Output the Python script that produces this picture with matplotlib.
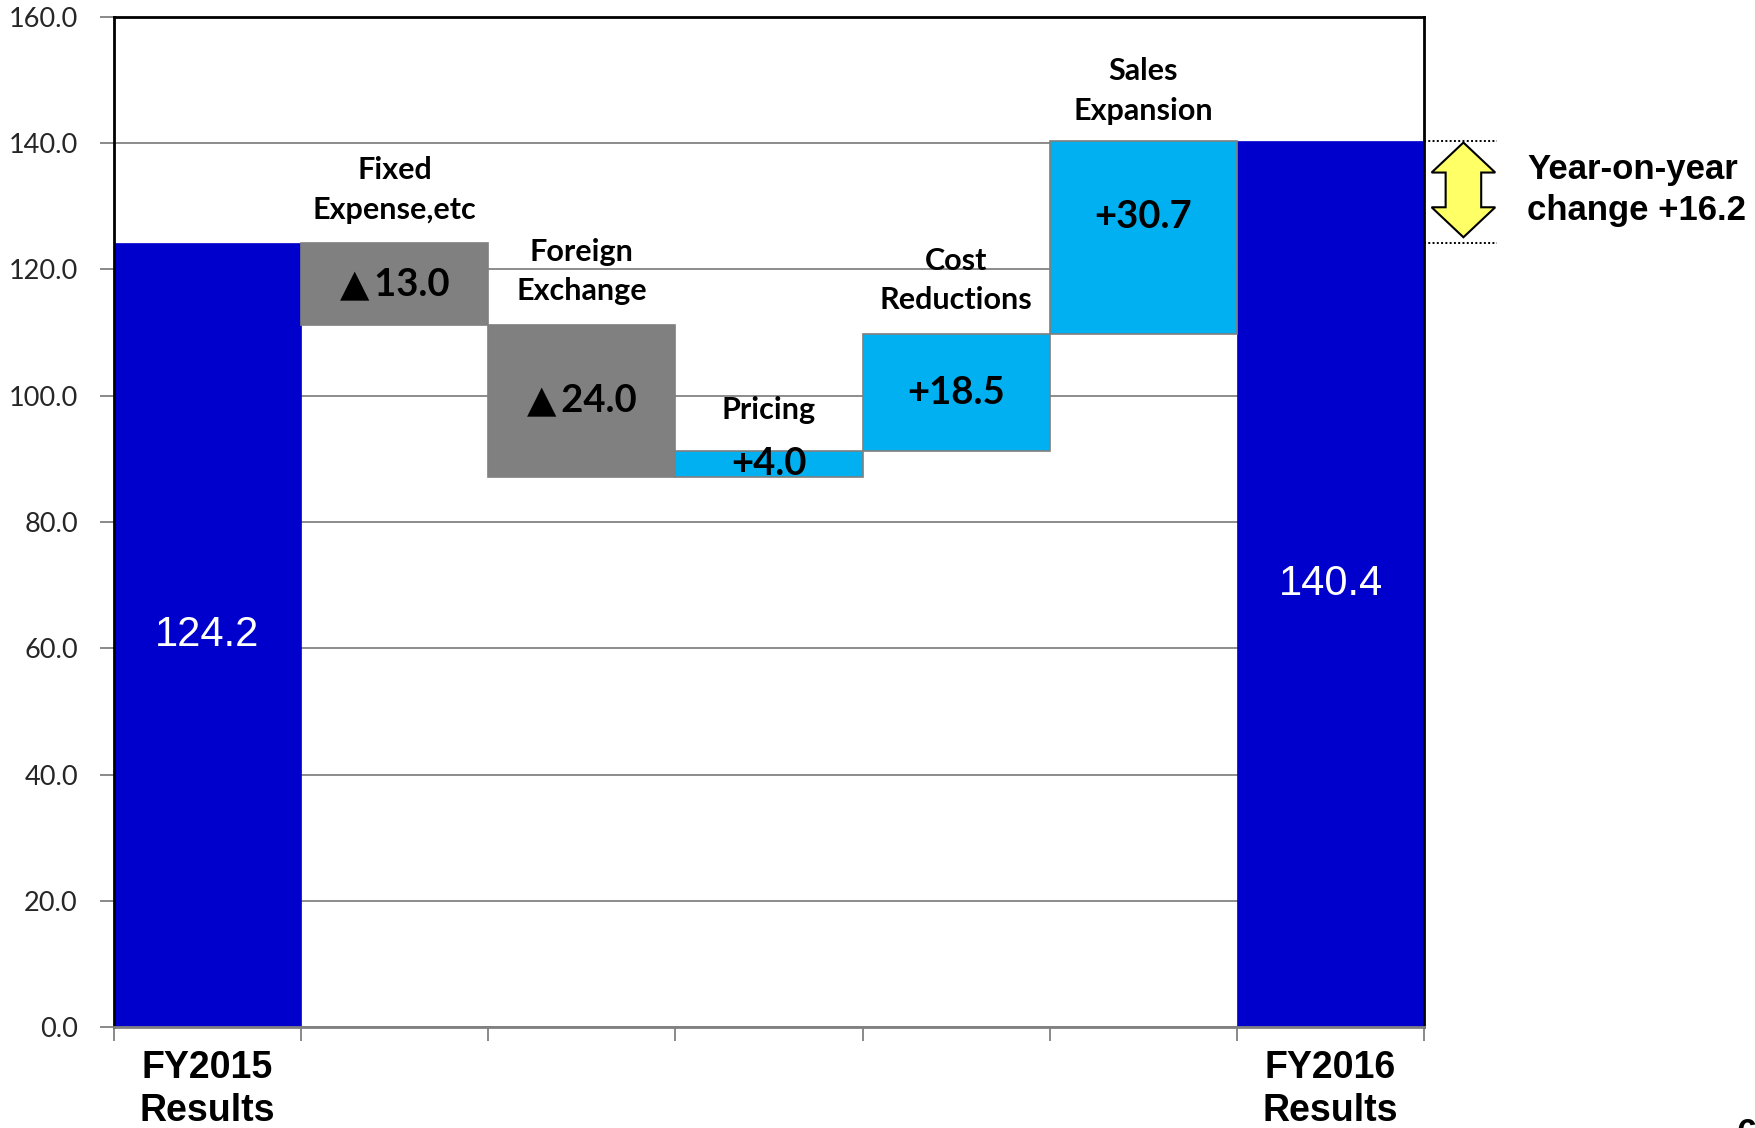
import matplotlib
matplotlib.use("Agg")
import matplotlib.pyplot as plt
from matplotlib.patches import Polygon
from matplotlib.ticker import FormatStrFormatter

# ---- data -------------------------------------------------------------
categories = ["FY2015\nResults", "Fixed\nExpense,etc", "Foreign\nExchange",
              "Pricing", "Cost\nReductions", "Sales\nExpansion", "FY2016\nResults"]
start_value = 124.2
changes = [-13.0, -24.0, 4.0, 18.5, 30.7]
end_value = 140.4
yoy_change = 16.2
y_ticks = [0, 20, 40, 60, 80, 100, 120, 140, 160]

# ---- styles -----------------------------------------------------------
BLUE = "#0000CC"
GREY = "#808080"
CYAN = "#00B0F0"
YELLOW = "#FFFF66"
CALIBRI_LIKE = ["Lato", "DejaVu Sans"]
ARIAL_LIKE = ["Liberation Sans", "DejaVu Sans"]

fig = plt.figure(figsize=(17.56, 11.28), dpi=100)
ax = fig.add_axes([0.0649, 0.0895, 0.7461, 0.8955])

n = len(categories)

# totals
ax.bar(0, start_value, width=1.0, color=BLUE, edgecolor=BLUE, linewidth=0.5, zorder=2)
ax.bar(n - 1, end_value, width=1.0, color=BLUE, edgecolor=BLUE, linewidth=0.5, zorder=2)

# floating step bars
level = start_value
bar_spans = []
for i, d in enumerate(changes, start=1):
    lo, hi = (level + d, level) if d < 0 else (level, level + d)
    ax.bar(i, hi - lo, bottom=lo, width=1.0,
           color=GREY if d < 0 else CYAN, edgecolor="#7F7F7F",
           linewidth=1.2, zorder=2)
    bar_spans.append((lo, hi))
    level += d

# value labels
ax.text(0, start_value / 2, f"{start_value:.1f}", ha="center", va="center",
        color="white", fontsize=30, family=ARIAL_LIKE, zorder=3)
ax.text(n - 1, end_value / 2, f"{end_value:.1f}", ha="center", va="center",
        color="white", fontsize=30, family=ARIAL_LIKE, zorder=3)

label_shift = [0.0, 0.0, 0.0, 0.0, 3.3]  # vertical nudge of in-bar labels
caption_gap = [3.0, 3.1, 4.3, 3.2, 2.5]   # space between bar top and caption
for i, (d, (lo, hi)) in enumerate(zip(changes, bar_spans), start=1):
    txt = f"\u25B2\u2009{abs(d):.1f}" if d < 0 else f"+{d:.1f}"
    ax.text(i, (lo + hi) / 2 + label_shift[i - 1], txt, ha="center", va="center",
            fontsize=27.5, fontweight="bold", family=CALIBRI_LIKE,
            color="black", zorder=3)
    ax.text(i, hi + caption_gap[i - 1], categories[i], ha="center", va="bottom",
            fontsize=22, fontweight="bold", family=CALIBRI_LIKE,
            linespacing=1.5, color="black", zorder=3)

# total captions under the axis
for i in (0, n - 1):
    ax.text(i, -3.6, categories[i], ha="center", va="top", fontsize=27,
            fontweight="bold", family=ARIAL_LIKE, linespacing=1.27,
            color="black", clip_on=False)

# axes styling
ax.set_xlim(-0.5, n - 0.5)
ax.set_ylim(0, 160)
ax.set_yticks(y_ticks)
ax.yaxis.set_major_formatter(FormatStrFormatter("%.1f"))
ax.set_xticks([x - 0.5 for x in range(n + 1)])
ax.set_xticklabels([])
ax.tick_params(axis="both", direction="out", length=10, width=1.3,
               color="#808080")
ax.tick_params(axis="y", labelsize=19.5, labelcolor="#262626", pad=16)
for lab in ax.get_yticklabels():
    lab.set_family(CALIBRI_LIKE)

ax.grid(axis="y", color="#8C8C8C", linewidth=1.4, zorder=0)
ax.set_axisbelow(True)
for side in ("left", "top", "right"):
    ax.spines[side].set_color("black")
    ax.spines[side].set_linewidth(2.0)
ax.spines["bottom"].set_color("#808080")
ax.spines["bottom"].set_linewidth(2.0)

# year-on-year bracket to the right of the plot
x0 = n - 0.5
ax.plot([x0, x0 + 0.39], [end_value, end_value], ls=(0, (1, 1.2)),
        color="black", lw=1.4, clip_on=False)
ax.plot([x0, x0 + 0.39], [start_value, start_value], ls=(0, (1, 1.2)),
        color="black", lw=1.4, clip_on=False)

cx, hw, sw, hl = x0 + 0.21, 0.17, 0.095, 4.75
top, bot = end_value - 0.3, start_value + 0.9
arrow = Polygon([(cx, top), (cx + hw, top - hl), (cx + sw, top - hl),
                 (cx + sw, bot + hl), (cx + hw, bot + hl), (cx, bot),
                 (cx - hw, bot + hl), (cx - sw, bot + hl), (cx - sw, top - hl),
                 (cx - hw, top - hl)], closed=True, facecolor=YELLOW,
                edgecolor="black", linewidth=1.5, clip_on=False, zorder=4)
ax.add_patch(arrow)

ax.text(x0 + 0.55, (start_value + end_value) / 2 + 0.3,
        f"Year-on-year\nchange +{yoy_change:.1f}", ha="left", va="center",
        fontsize=25, fontweight="bold", family=ARIAL_LIKE,
        linespacing=1.3, color="black", clip_on=False)

# page number in the corner
fig.text(0.989, 0.0089, "6", ha="left", va="top", fontsize=26,
         fontweight="bold", family=ARIAL_LIKE, color="black")

fig.savefig("out.png", dpi=100)
